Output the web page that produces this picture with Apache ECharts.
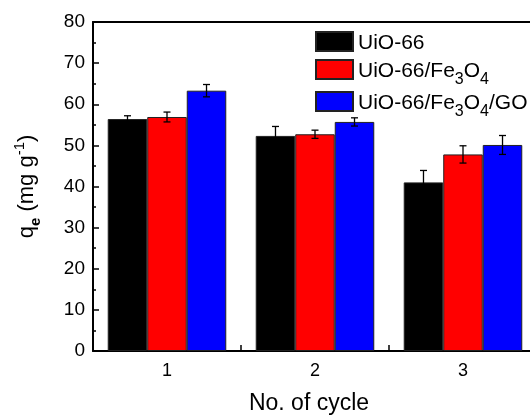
<!DOCTYPE html>
<html>
<head>
<meta charset="utf-8">
<script src="https://cdn.jsdelivr.net/npm/echarts@6/dist/echarts.min.js"></script>
<style>html,body{margin:0;padding:0;background:#fff}#c{width:530px;height:416px}</style>
</head>
<body>
<div id="c"></div>
<script>
const categories = ['1', '2', '3'];
const seriesNames = ['UiO-66', 'UiO-66/Fe3O4', 'UiO-66/Fe3O4/GO'];
const uio66 = [56.4, 52.3, 41.0];
const uio66Err = [0.8, 2.3, 2.9];
const uioFe = [56.9, 52.7, 47.8];
const uioFeErr = [1.2, 1.0, 2.1];
const uioFeGO = [63.3, 55.7, 50.1];
const uioFeGOErr = [1.5, 1.0, 2.3];
const yTicks = [0, 10, 20, 30, 40, 50, 60, 70, 80];
const colors = ['#000000', '#ff0000', '#0000ff'];

const FONT = '"Liberation Sans", Arial, sans-serif';
const BAR_FRAC = 0.267;

const chart = echarts.init(document.getElementById('c'));

function barSeries(name, vals, color) {
  return {
    name: name, type: 'bar', xAxisIndex: 0, yAxisIndex: 0,
    data: vals, barWidth: (BAR_FRAC * 100) + '%', barGap: '0%',
    itemStyle: { color: color, borderColor: '#222', borderWidth: 1 },
    z: 2
  };
}
function errSeries(vals, errs, idx) {
  const data = vals.map((v, i) => [i, v - errs[i], v + errs[i]]);
  return {
    type: 'custom', xAxisIndex: 0, yAxisIndex: 0, z: 5, silent: true,
    data: data,
    renderItem: function (params, api) {
      const xi = api.value(0);
      const lo = api.coord([xi, api.value(1)]);
      const hi = api.coord([xi, api.value(2)]);
      const band = api.size([1, 0])[0];
      const x = lo[0] + (idx - 1) * band * BAR_FRAC;
      const cap = 3.5;
      const st = { stroke: '#000', lineWidth: 1.3, fill: null };
      return {
        type: 'group',
        children: [
          { type: 'line', shape: { x1: x, y1: lo[1], x2: x, y2: hi[1] }, style: st },
          { type: 'line', shape: { x1: x - cap, y1: lo[1], x2: x + cap, y2: lo[1] }, style: st },
          { type: 'line', shape: { x1: x - cap, y1: hi[1], x2: x + cap, y2: hi[1] }, style: st }
        ]
      };
    }
  };
}

const legendRich = {
  n: { fontSize: 21, fontFamily: FONT, color: '#000', verticalAlign: 'bottom', lineHeight: 24 },
  s: { fontSize: 16, fontFamily: FONT, color: '#000', verticalAlign: 'bottom', lineHeight: 18, padding: [0, 0, -6, 0] }
};
function legendFmt(name) {
  if (name === 'UiO-66') return '{n|UiO-66}';
  if (name === 'UiO-66/Fe3O4') return '{n|UiO-66/Fe}{s|3}{n|O}{s|4}';
  return '{n|UiO-66/Fe}{s|3}{n|O}{s|4}{n|/GO}';
}
function mkLegend(name, top) {
  return {
    data: [name], left: 315, top: top, orient: 'vertical',
    itemWidth: 37, itemHeight: 19, itemGap: 0, padding: 0,
    selectedMode: false, icon: 'rect',
    formatter: legendFmt,
    textStyle: { rich: legendRich, padding: [0, 0, 0, 0] }
  };
}

const option = {
  animation: false,
  backgroundColor: '#fff',
  grid: { left: 93, top: 22, width: 444, bottom: 65, outerBoundsMode: 'none', containLabel: false, show: false },
  legend: [
    mkLegend(seriesNames[0], 31),
    mkLegend(seriesNames[1], 59),
    mkLegend(seriesNames[2], 91)
  ],
  xAxis: [
    { type: 'category', data: categories, show: false, boundaryGap: true },
    {
      type: 'value', min: 0.5, max: 3.5, interval: 0.5, position: 'bottom',
      axisLine: { show: true, lineStyle: { color: '#000', width: 2 } },
      axisTick: { show: true, inside: true, length: 6, lineStyle: { color: '#000', width: 1.5 } },
      minorTick: { show: true, splitNumber: 2, length: 3, lineStyle: { color: '#000', width: 1.5 } },
      splitLine: { show: false },
      axisLabel: {
        margin: 11, fontSize: 18, color: '#000', fontFamily: FONT,
        formatter: v => (Math.abs(v - Math.round(v)) < 1e-6 ? String(Math.round(v)) : '')
      },
      name: 'No. of cycle', nameLocation: 'middle', nameGap: 41,
      nameTextStyle: { fontSize: 23, color: '#000', fontFamily: FONT, padding: [0, 12, 0, 0] }
    },
    {
      type: 'value', min: 0.5, max: 3.5, interval: 0.5, position: 'top',
      axisLine: { show: true, lineStyle: { color: '#000', width: 2 } },
      axisTick: { show: false }, axisLabel: { show: false }, splitLine: { show: false }
    }
  ],
  yAxis: {
    type: 'value', min: yTicks[0], max: yTicks[yTicks.length - 1], interval: 10,
    axisLine: { show: true, lineStyle: { color: '#000', width: 2 } },
    axisTick: { show: true, inside: true, length: 6, lineStyle: { color: '#000', width: 1.5 } },
    minorTick: { show: true, splitNumber: 2, length: 3, lineStyle: { color: '#000', width: 1.5 } },
    splitLine: { show: false },
    axisLabel: { margin: 8, fontSize: 19, color: '#000', fontFamily: FONT },
    name: '{n|q}{s|e}{n| (mg g}{u|-1}{n|)}',
    nameLocation: 'middle', nameGap: 55, nameRotate: 90,
    nameTextStyle: {
      color: '#000', fontFamily: FONT,
      rich: {
        n: { fontSize: 22, fontFamily: FONT, color: '#000', verticalAlign: 'bottom', lineHeight: 26 },
        s: { fontSize: 15, fontFamily: FONT, color: '#000', fontWeight: 'bold', verticalAlign: 'bottom', lineHeight: 18, padding: [0, 0, -5, 0] },
        u: { fontSize: 15, fontFamily: FONT, color: '#000', verticalAlign: 'top', lineHeight: 16, padding: [0, 0, 9, 0] }
      }
    }
  },
  series: [
    barSeries(seriesNames[0], uio66, colors[0]),
    barSeries(seriesNames[1], uioFe, colors[1]),
    barSeries(seriesNames[2], uioFeGO, colors[2]),
    errSeries(uio66, uio66Err, 0),
    errSeries(uioFe, uioFeErr, 1),
    errSeries(uioFeGO, uioFeGOErr, 2)
  ]
};
chart.setOption(option);
</script>
</body>
</html>
